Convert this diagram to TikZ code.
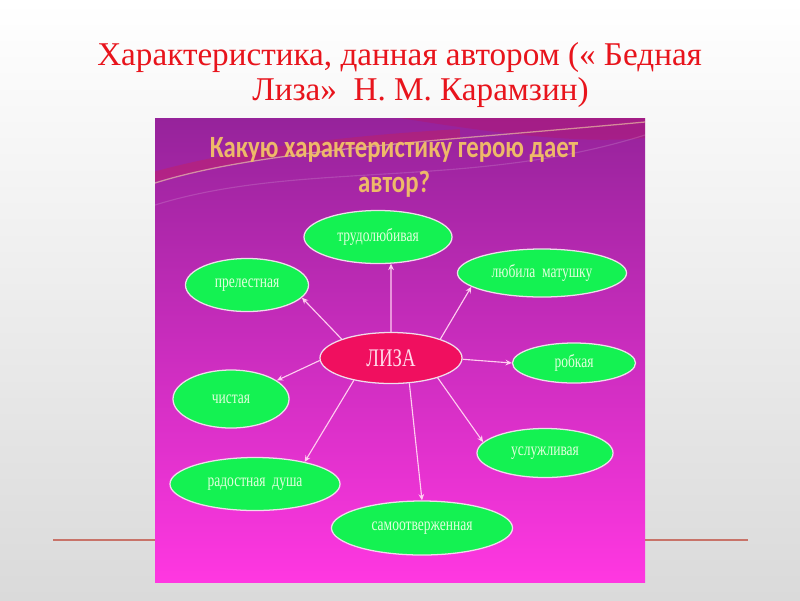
\documentclass[tikz,border=0pt]{standalone}
\usepackage{fontspec}
\setmainfont{Liberation Serif}
\newfontfamily\ovalfont[FakeStretch=0.74]{Liberation Serif}
\newfontfamily\headfont[FakeStretch=0.8]{Carlito}
\usetikzlibrary{shapes.geometric,arrows.meta}

\definecolor{titlered}{RGB}{232,20,28}
\definecolor{slidegray}{RGB}{218,218,218}
\definecolor{rulered}{RGB}{200,115,105}
\definecolor{boxtop}{RGB}{150,35,155}
\definecolor{boxmid}{RGB}{208,25,178}
\definecolor{boxbot}{RGB}{255,55,225}
\definecolor{headgold}{RGB}{238,185,105}
\definecolor{ovalgreen}{RGB}{20,242,82}
\definecolor{ovalrim}{RGB}{240,220,235}
\definecolor{ovaltext}{RGB}{225,255,220}
\definecolor{lizared}{RGB}{240,15,95}
\definecolor{lizatext}{RGB}{255,220,235}
\definecolor{linkpink}{RGB}{255,205,240}

\tikzset{
  oval/.style={ellipse, draw=ovalrim, line width=0.9pt, fill=ovalgreen,
    text=ovaltext, inner sep=0pt, font=\ovalfont\fontsize{13}{15}\selectfont},
  hero/.style={oval, fill=lizared, text=lizatext,
    font=\ovalfont\fontsize{18}{20}\selectfont},
  link/.style={draw=linkpink, line width=0.8pt, -{Stealth[length=4.5pt,width=4pt]}},
  title/.style={text=titlered, font=\fontsize{23.6}{28}\selectfont, inner sep=0pt},
  heading/.style={text=headgold, font=\headfont\bfseries\fontsize{22}{26}\selectfont, inner sep=0pt}
}

\begin{document}
\begin{tikzpicture}[x=0.025cm, y=-0.025cm]
  % slide
  \useasboundingbox (0,0) rectangle (800,600);
  \shade[top color=white, bottom color=slidegray] (0,0) rectangle (800,600);
  \node[title, anchor=base west] (title1) at (97,65) {Характеристика, данная автором (« Бедная};
  \node[title, anchor=base west] (title2) at (252,100) {Лиза»\ \ Н. М. Карамзин)};
  \draw[rulered, line width=1.4pt] (53,540) -- (748,540);

  % picture box
  \shade[top color=boxtop, middle color=boxmid, bottom color=boxbot] (155,118) rectangle (645,582);
  \begin{scope}
    \clip (155,118) rectangle (645,582);
    \fill[red!75!purple, opacity=0.15] (400,118) .. controls (500,134) and (580,144) .. (645,138) -- (645,118) -- cycle;
    \draw[red!80!orange, opacity=0.18, line width=7pt] (150,178) .. controls (220,158) and (320,142) .. (460,134);
    \draw[headgold!60!white, opacity=0.6, line width=0.9pt] (155,183) .. controls (260,150) and (430,142) .. (645,122);
    \draw[white, opacity=0.15, line width=0.8pt] (155,205) .. controls (300,160) and (470,190) .. (645,135);
  \end{scope}
  \node[heading, anchor=base] (head1) at (394,157) {Какую характеристику герою дает};
  \node[heading, anchor=base] (head2) at (394,192) {автор?};

  % ovals
  \node[hero, minimum width=3.55cm, minimum height=1.275cm] (liza) at (391,358) {ЛИЗА};
  \node[oval, minimum width=3.7cm, minimum height=1.325cm] (trud) at (378,237) {трудолюбивая};
  \node[oval, minimum width=4.225cm, minimum height=1.2cm] (lub) at (542,273) {любила\ \ матушку};
  \node[oval, minimum width=3.075cm, minimum height=1.325cm] (prel) at (247,285) {прелестная};
  \node[oval, minimum width=3.075cm, minimum height=1cm] (robk) at (574,363) {робкая};
  \node[oval, minimum width=2.9cm, minimum height=1.45cm] (chist) at (231,399) {чистая};
  \node[oval, minimum width=3.4cm, minimum height=1.225cm] (usl) at (545,453) {услужливая};
  \node[oval, minimum width=4.25cm, minimum height=1.325cm] (rad) at (255,484) {радостная\ \ душа};
  \node[oval, minimum width=4.525cm, minimum height=1.35cm] (samo) at (422,528) {самоотверженная};

  % arrows
  \draw[link] (liza.north) -- (trud.-64);
  \draw[link] (liza.21) -- (lub.191);
  \draw[link] (liza.159) -- (prel.-13);
  \draw[link] (liza.-1) -- (robk.west);
  \draw[link] (liza.182) -- (chist.22);
  \draw[link] (liza.211) -- (rad.24);
  \draw[link] (liza.-54) -- (samo.north);
  \draw[link] (liza.-23) -- (usl.170);
\end{tikzpicture}
\end{document}
